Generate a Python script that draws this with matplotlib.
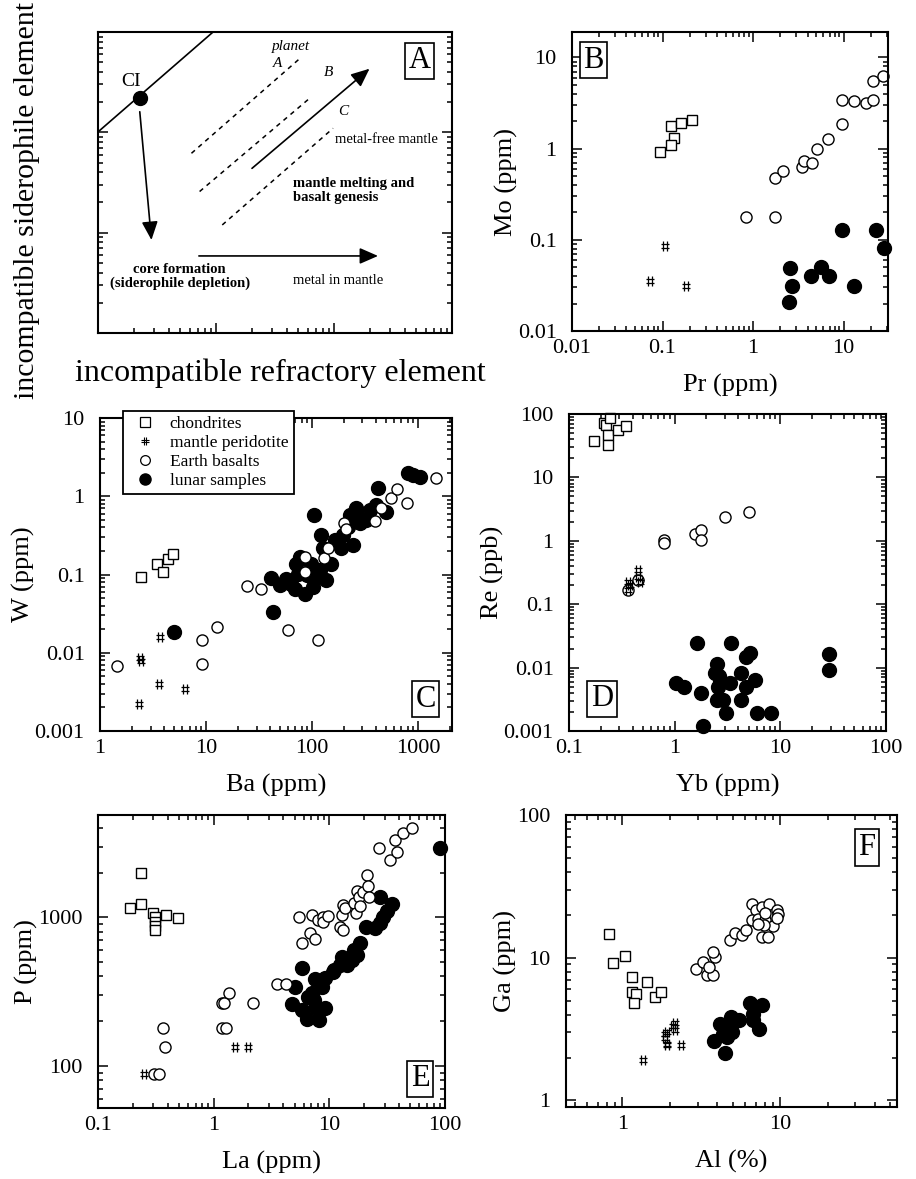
import numpy as np
import matplotlib.pyplot as plt
from matplotlib.ticker import LogLocator, FuncFormatter, NullFormatter
from matplotlib.lines import Line2D
from matplotlib.path import Path

plt.rcParams['font.family'] = ['Liberation Serif', 'DejaVu Serif']
plt.rcParams['axes.linewidth'] = 1.5

# ---------------- data: panel B (Mo vs Pr) ----------------
b_chon_x = [0.093, 0.125, 0.133, 0.125, 0.161, 0.21]
b_chon_y = [0.92, 1.76, 1.32, 1.09, 1.91, 2.08]
b_peri_x = [0.106, 0.072, 0.181]
b_peri_y = [0.085, 0.035, 0.031]
b_bas_x = [0.83, 1.75, 1.75, 2.17, 3.52, 3.67, 4.54, 5.07, 6.77, 9.5, 9.5, 12.9, 17.7, 20.9, 20.9, 27]
b_bas_y = [0.177, 0.177, 0.476, 0.57, 0.63, 0.73, 0.70, 1.0, 1.29, 1.88, 3.45, 3.31, 3.18, 3.45, 5.54, 6.3]
b_lun_x = [9.5, 22.8, 28.2, 2.57, 5.6, 4.35, 6.93, 2.68, 2.5, 12.9]
b_lun_y = [0.127, 0.127, 0.082, 0.049, 0.05, 0.04, 0.04, 0.031, 0.021, 0.031]

# ---------------- data: panel C (W vs Ba) ----------------
c_chon_x = [2.42, 3.42, 3.90, 4.34, 4.91]
c_chon_y = [0.093, 0.138, 0.108, 0.160, 0.185]
c_peri_x = [3.68, 2.38, 2.43, 3.63, 6.33, 2.35]
c_peri_y = [0.0161, 0.0085, 0.0079, 0.0040, 0.0034, 0.0022]
c_bas_x = [1.44, 9.1, 9.1, 12.6, 24.5, 33.4, 60, 113, 85.5, 85.5, 129, 143, 199, 208, 393, 448, 557, 634, 788, 1469]
c_bas_y = [0.0068, 0.0146, 0.0072, 0.0216, 0.072, 0.065, 0.0196, 0.0146, 0.168, 0.108,
           0.163, 0.217, 0.449, 0.376, 0.486, 0.70, 0.94, 1.25, 0.81, 1.70]
c_lun_x = [4.98, 43, 41.5, 49.7, 64, 68.9, 85.5, 74, 90, 76.7,
           110, 137, 118, 153, 127, 123, 164, 197, 190, 244,
           227, 263, 282, 326, 405, 496, 272, 104, 420, 806,
           898, 1037, 71.4, 99, 57.5, 102, 219, 351]
c_lun_y = [0.0183, 0.0336, 0.091, 0.0726, 0.0762, 0.0658, 0.0567, 0.1026, 0.0976, 0.168,
           0.093, 0.084, 0.113, 0.138, 0.215, 0.319, 0.275, 0.319, 0.215, 0.237,
           0.574, 0.70, 0.449, 0.495, 0.773, 0.634, 0.547, 0.574, 1.26, 1.97,
           1.87, 1.75, 0.138, 0.138, 0.0885, 0.069, 0.41, 0.665]

# ---------------- data: panel D (Re vs Yb) ----------------
d_chon_x = [0.171, 0.213, 0.226, 0.247, 0.234, 0.234, 0.291, 0.349]
d_chon_y = [37.9, 71, 67, 85, 46.7, 33, 56, 65.5]
d_peri_x = [0.362, 0.376, 0.362, 0.451, 0.451, 0.467]
d_peri_y = [0.168, 0.201, 0.226, 0.346, 0.272, 0.226]
d_bas_x = [0.789, 0.789, 1.55, 1.79, 1.79, 2.98, 5.07, 0.45, 0.36]
d_bas_y = [1.03, 0.91, 1.28, 1.48, 1.03, 2.35, 2.81, 0.24, 0.165]
d_lun_x = [1.64, 3.45, 5.14, 4.71, 2.49, 2.40, 2.68, 3.33, 2.58, 4.29, 5.73, 4.78, 4.29,
           2.49, 2.88, 3.09, 5.96, 8.1, 1.77, 1.02, 1.23, 1.86, 28.8, 28.8, 2.64]
d_lun_y = [0.0247, 0.0247, 0.0168, 0.0149, 0.01127, 0.00813, 0.00638, 0.00565, 0.00501, 0.00813,
           0.00638, 0.00501, 0.00308, 0.00308, 0.00308, 0.00195, 0.00195, 0.00195, 0.00393,
           0.00565, 0.00501, 0.0012, 0.0162, 0.00916, 0.00738]

# ---------------- data: panel E (P vs La) ----------------
e_chon_x = [0.190, 0.235, 0.235, 0.296, 0.31, 0.31, 0.31, 0.31, 0.386, 0.491]
e_chon_y = [1162, 2000, 1230, 1075, 1000, 935, 874, 822, 1037, 985]
e_peri_x = [0.248, 1.53, 2.0]
e_peri_y = [88.8, 134, 134]
e_bas_x = [0.303, 0.337, 0.364, 0.376, 1.18, 1.22, 1.18, 1.28, 1.37, 2.18, 3.52, 4.24,
           5.48, 5.78, 6.83, 7.06, 8.06, 8.79, 8.79, 7.5, 9.7, 12.4, 12.8, 13.1, 13.2, 13.7,
           16.2, 17.0, 17.3, 17.9, 18.5, 19.7, 21.1, 21.8, 22.2, 27.1, 33.5, 37, 38.3, 43.7, 52]
e_bas_y = [88.8, 88.8, 179, 134, 266, 266, 179, 179, 311, 266, 356, 356,
           1010, 668, 780, 1037, 960, 1010, 935, 720, 1030, 865, 1037, 821, 1211, 1150,
           1256, 1075, 1506, 1379, 1199, 1490, 1928, 1626, 1379, 2917, 2437, 3320, 2775, 3681, 3981]
e_lun_x = [90.6, 27.5, 34.7, 31.4, 29, 27.5, 24.9, 20.8, 18.5, 16.2, 15.6, 12.8, 12.4, 10.7,
           9.2, 8.6, 7.54, 7.06, 5.78, 5.07, 4.74, 5.78, 6.38, 8.22, 7.54, 9.2, 7.3, 6.6,
           17.3, 14.2, 10.9]
e_lun_y = [2917, 1365, 1230, 1109, 1000, 921, 843, 865, 668, 603, 516, 543, 478, 431,
           388, 341, 382, 308, 453, 341, 261, 237, 208, 205, 244, 244, 277, 292,
           557, 478, 442]

# ---------------- data: panel F (Ga vs Al) ----------------
f_chon_x = [0.823, 0.869, 1.04, 1.16, 1.15, 1.22, 1.19, 1.44, 1.61, 1.76]
f_chon_y = [14.6, 9.25, 10.3, 7.33, 5.75, 5.54, 4.82, 6.76, 5.31, 5.75]
f_peri_x = [1.35, 1.87, 1.91, 1.91, 1.91, 2.16, 2.16, 2.34, 1.87, 2.10]
f_peri_y = [1.91, 2.94, 3.02, 2.50, 2.43, 3.49, 3.14, 2.43, 2.75, 3.3]
f_bas_x = [2.93, 3.26, 3.46, 3.78, 3.56, 3.87, 3.78, 4.82, 5.18, 5.71, 6.08, 6.61, 7.04, 7.65,
           8.56, 9.52, 9.76, 6.61, 7.29, 8.03, 8.98, 9.52, 7.85, 7.65, 8.43, 7.29, 8.03]
f_bas_y = [8.4, 9.35, 7.54, 7.54, 8.63, 10.1, 11.0, 13.3, 14.8, 14.4, 15.6, 23.7, 21.5, 22.7,
           23.7, 21.5, 20.4, 18.5, 18.8, 18.5, 16.6, 19.0, 16.9, 13.9, 13.9, 17.2, 20.6]
f_lun_x = [3.81, 4.48, 4.16, 4.48, 4.86, 5.06, 5.52, 4.59, 4.94, 6.45, 6.71, 7.65, 7.40, 6.78, 4.37]
f_lun_y = [2.59, 2.15, 3.45, 3.18, 3.85, 3.55, 3.64, 2.78, 3.02, 4.82, 4.06, 4.69, 3.18, 3.64, 2.94]

legend_labels = ['chondrites', 'mantle peridotite', 'Earth basalts', 'lunar samples']

# "#" shaped marker made of two vertical and two horizontal strokes
hash_marker = Path(
    [(-0.35, -1), (-0.35, 1), (0.35, -1), (0.35, 1),
     (-0.9, 0.35), (0.9, 0.35), (-0.9, -0.35), (0.9, -0.35)],
    [Path.MOVETO, Path.LINETO] * 4)

fig = plt.figure(figsize=(9.16, 11.79), dpi=100)

# axes boxes measured in pixels of the reference (left, top, right, bottom)
W, H = 916.0, 1179.0
def add_axes(l, t, r, b):
    return fig.add_axes([l / W, 1 - b / H, (r - l) / W, (b - t) / H])

axA = add_axes(98, 32, 452, 333)
axB = add_axes(572, 32, 888, 331)
axC = add_axes(100, 418, 452, 731)
axD = add_axes(569, 414, 886, 731)
axE = add_axes(98, 815, 445, 1108)
axF = add_axes(566, 815, 897, 1107)

fmt = FuncFormatter(lambda v, p: '%g' % v)

def style_log(ax, xlim, ylim, xlabel=None, ylabel=None):
    ax.set_xscale('log')
    ax.set_yscale('log')
    ax.set_xlim(xlim)
    ax.set_ylim(ylim)
    for axis in (ax.xaxis, ax.yaxis):
        axis.set_major_locator(LogLocator(base=10, numticks=20))
        axis.set_minor_locator(LogLocator(base=10, subs=np.arange(2, 10), numticks=20))
        axis.set_major_formatter(fmt)
        axis.set_minor_formatter(NullFormatter())
    ax.tick_params(which='both', direction='in', top=True, right=True, width=1.1)
    ax.tick_params(which='major', length=7, labelsize=16)
    ax.tick_params(which='minor', length=3.5)
    ax.tick_params(axis='x', which='major', pad=6)
    ax.tick_params(axis='y', which='major', pad=11)
    if xlabel:
        ax.set_xlabel(xlabel, fontsize=19, labelpad=11)
    if ylabel:
        ax.set_ylabel(ylabel, fontsize=19, labelpad=0)

def plot_groups(ax, chon, peri, bas, lun):
    ax.plot(lun[0], lun[1], marker='o', ms=10, mfc='black', mec='black', ls='none', clip_on=False)
    ax.plot(bas[0], bas[1], marker='o', ms=8, mfc='white', mec='black', mew=1, ls='none', clip_on=False)
    ax.plot(chon[0], chon[1], marker='s', ms=7.5, mfc='white', mec='black', mew=1, ls='none', clip_on=False)
    ax.plot(peri[0], peri[1], marker=hash_marker, ms=7, mfc='none', mec='black', mew=0.9,
            ls='none', clip_on=False)

def panel_letter(ax, x, y, letter):
    ax.text(x, y, letter, transform=ax.transAxes, fontsize=22, ha='center', va='center',
            bbox=dict(boxstyle='square,pad=0.12', fc='white', ec='black', lw=1.2), zorder=5)

# ---------------- panel A: schematic ----------------
style_log(axA, (1, 1000), (1, 1000))
axA.tick_params(which='both', top=False, labelbottom=False, labelleft=False)
T = axA.transAxes
axA.plot([0, 0.325], [0.668, 1.0], color='black', lw=1.2, transform=T)
axA.plot([0.118], [0.782], marker='o', ms=10, color='black', transform=T)
axA.text(0.094, 0.835, 'CI', fontsize=14, ha='center', va='center', transform=T)
for xs, ys in [((0.264, 0.575), (0.597, 0.917)),
               ((0.287, 0.603), (0.470, 0.785)),
               ((0.351, 0.664), (0.359, 0.680))]:
    axA.plot(xs, ys, color='black', lw=1.1, dashes=(3, 3), transform=T)

def arrow(x0, y0, x1, y1):
    axA.annotate('', xy=(x1, y1), xytext=(x0, y0), xycoords='axes fraction',
                 textcoords='axes fraction',
                 arrowprops=dict(arrowstyle='-|>,head_length=0.8,head_width=0.35',
                                 color='black', lw=1.2, mutation_scale=14,
                                 shrinkA=0, shrinkB=0))

arrow(0.118, 0.735, 0.151, 0.309)
arrow(0.285, 0.256, 0.791, 0.256)
arrow(0.435, 0.547, 0.767, 0.878)

axA.text(0.546, 0.952, 'planet', style='italic', fontsize=11, ha='center', va='center', transform=T)
axA.text(0.506, 0.897, 'A', style='italic', fontsize=11, ha='center', va='center', transform=T)
axA.text(0.650, 0.867, 'B', style='italic', fontsize=11, ha='center', va='center', transform=T)
axA.text(0.694, 0.735, 'C', style='italic', fontsize=11, ha='center', va='center', transform=T)
axA.text(0.669, 0.643, 'metal-free mantle', fontsize=10.5, ha='left', va='center', transform=T)
axA.text(0.551, 0.472, 'mantle melting and\nbasalt genesis', fontsize=10.5, fontweight='bold',
         ha='left', va='center', linespacing=1.1, transform=T)
axA.text(0.231, 0.187, 'core formation\n(siderophile depletion)', fontsize=10.5,
         fontweight='bold', ha='center', va='center', linespacing=1.1, transform=T)
axA.text(0.551, 0.173, 'metal in mantle', fontsize=10.5, ha='left', va='center', transform=T)
panel_letter(axA, 0.909, 0.904, 'A')

fig.text(0.306, 0.6836, 'incompatible refractory element', fontsize=23, ha='center', va='center')
fig.text(27 / W, 1 - 200 / H, 'incompatible siderophile element', fontsize=21.5, rotation=90,
         ha='center', va='center')

# ---------------- panel B ----------------
style_log(axB, (0.01, 31), (0.01, 19), 'Pr (ppm)', 'Mo (ppm)')
plot_groups(axB, (b_chon_x, b_chon_y), (b_peri_x, b_peri_y), (b_bas_x, b_bas_y), (b_lun_x, b_lun_y))
panel_letter(axB, 0.068, 0.906, 'B')

# ---------------- panel C ----------------
style_log(axC, (1, 2100), (0.001, 10), 'Ba (ppm)', 'W (ppm)')
plot_groups(axC, (c_chon_x, c_chon_y), (c_peri_x, c_peri_y), (c_bas_x, c_bas_y), (c_lun_x, c_lun_y))
panel_letter(axC, 0.925, 0.102, 'C')
handles = [
    Line2D([], [], marker='s', ms=6.5, mfc='white', mec='black', mew=0.9, ls='none'),
    Line2D([], [], marker=hash_marker, ms=6, mfc='none', mec='black', mew=0.8, ls='none'),
    Line2D([], [], marker='o', ms=7, mfc='white', mec='black', mew=0.9, ls='none'),
    Line2D([], [], marker='o', ms=8, mfc='black', mec='black', ls='none'),
]
leg = axC.legend(handles, legend_labels, loc='upper left', bbox_to_anchor=(0.065, 1.022),
                 fontsize=12.5, frameon=True, fancybox=False, edgecolor='black',
                 borderpad=0.3, labelspacing=0.15, handletextpad=0.4, borderaxespad=0,
                 handlelength=2.0)
leg.get_frame().set_linewidth(1.3)
leg.get_frame().set_alpha(1)
leg.set_zorder(10)

# ---------------- panel D ----------------
style_log(axD, (0.1, 100), (0.001, 100), 'Yb (ppm)', 'Re (ppb)')
plot_groups(axD, (d_chon_x, d_chon_y), (d_peri_x, d_peri_y), (d_bas_x, d_bas_y), (d_lun_x, d_lun_y))
panel_letter(axD, 0.104, 0.101, 'D')

# ---------------- panel E ----------------
style_log(axE, (0.1, 100), (52, 4900), 'La (ppm)', 'P (ppm)')
plot_groups(axE, (e_chon_x, e_chon_y), (e_peri_x, e_peri_y), (e_bas_x, e_bas_y), (e_lun_x, e_lun_y))
panel_letter(axE, 0.928, 0.099, 'E')

# ---------------- panel F ----------------
style_log(axF, (0.44, 55), (0.9, 100), 'Al (%)', 'Ga (ppm)')
plot_groups(axF, (f_chon_x, f_chon_y), (f_peri_x, f_peri_y), (f_bas_x, f_bas_y), (f_lun_x, f_lun_y))
panel_letter(axF, 0.909, 0.889, 'F')

fig.savefig('out.png', dpi=100)
